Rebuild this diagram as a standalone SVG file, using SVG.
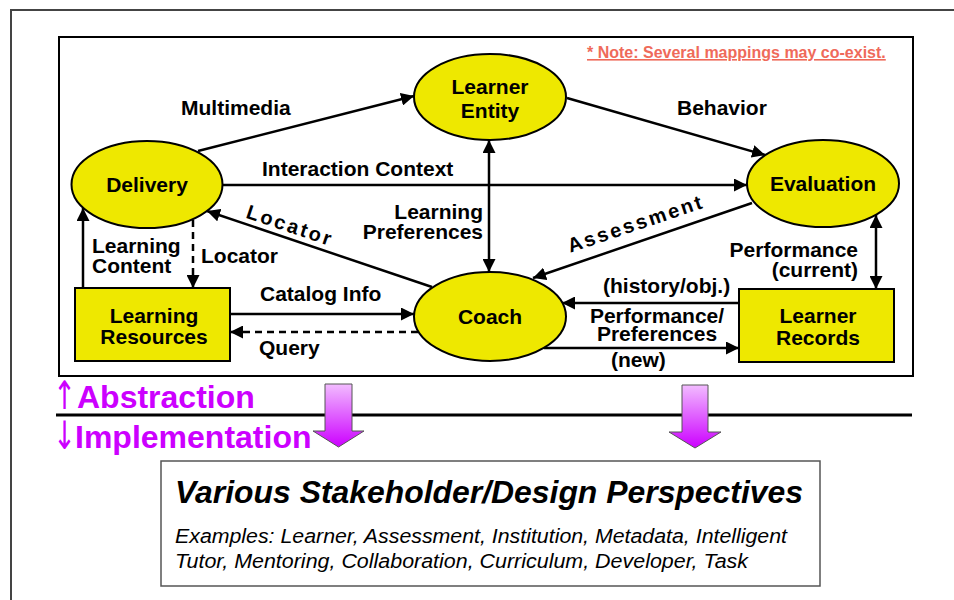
<svg xmlns="http://www.w3.org/2000/svg" width="954" height="600" viewBox="0 0 954 600">
<style>
.t{font-family:"Liberation Sans",Arial,sans-serif;font-weight:bold;font-size:21px;fill:#000}
.node{fill:#EEE800;stroke:#000;stroke-width:2}
.c{fill:none;stroke:#000;stroke-width:2.5}
.d{fill:none;stroke:#000;stroke-width:2.5;stroke-dasharray:7,5}
.mag{font-family:"Liberation Sans",Arial,sans-serif;font-weight:bold;font-size:32px;fill:#CC00FF}
.arw{font-family:"DejaVu Sans",sans-serif;font-weight:normal;font-size:29px;fill:#CC00FF}
.blk{stroke:#555;stroke-width:1;fill:url(#pg)}
</style>
<defs>
<marker id="ah" markerUnits="userSpaceOnUse" markerWidth="14" markerHeight="13" refX="13" refY="6.5" orient="auto-start-reverse">
<path d="M0,0 L13,6.5 L0,13 z" fill="#000"/>
</marker>
<linearGradient id="pg" x1="0" y1="0" x2="0" y2="1">
<stop offset="0" stop-color="#F2BCFF"/>
<stop offset="1" stop-color="#CC00FF"/>
</linearGradient>
</defs>
<rect width="954" height="600" fill="#fff"/>
<rect x="11" y="10" width="960" height="620" fill="none" stroke="#444" stroke-width="2"/>
<rect x="59" y="37" width="854" height="339" fill="#fff" stroke="#000" stroke-width="2"/>
<text x="587" y="58" style="font-family:'Liberation Sans',Arial,sans-serif;font-weight:bold;font-size:16px;fill:#EF6A5A;text-decoration:underline">* Note: Several mappings may co-exist.</text>

<g id="connectors">
<line class="c" x1="198" y1="151" x2="414" y2="96" marker-end="url(#ah)"/>
<line class="c" x1="222" y1="185" x2="747" y2="185" marker-end="url(#ah)"/>
<line class="c" x1="567" y1="98" x2="765" y2="155" marker-end="url(#ah)"/>
<line class="c" x1="489" y1="140" x2="489" y2="272" marker-start="url(#ah)" marker-end="url(#ah)"/>
<line class="c" x1="432" y1="287" x2="207" y2="211" marker-end="url(#ah)"/>
<line class="c" x1="752" y1="203" x2="533" y2="278" marker-end="url(#ah)"/>
<line class="c" x1="83" y1="288" x2="83" y2="208" marker-end="url(#ah)"/>
<line class="d" x1="193" y1="220" x2="193" y2="288" marker-end="url(#ah)"/>
<line class="c" x1="230" y1="314" x2="414" y2="314" marker-end="url(#ah)"/>
<line class="d" x1="418" y1="332" x2="230" y2="332" marker-end="url(#ah)"/>
<line class="c" x1="739" y1="303" x2="562" y2="303" marker-end="url(#ah)"/>
<line class="c" x1="544" y1="348" x2="739" y2="348" marker-end="url(#ah)"/>
<line class="c" x1="876" y1="215" x2="876" y2="289" marker-start="url(#ah)" marker-end="url(#ah)"/>
<text class="t" x="181" y="115">Multimedia</text>
<text class="t" x="677" y="115">Behavior</text>
<text class="t" x="262" y="176">Interaction Context</text>
<text class="t" x="483" y="219" text-anchor="end">Learning</text>
<text class="t" x="483" y="239" text-anchor="end">Preferences</text>
<text class="t" x="92" y="253">Learning</text>
<text class="t" x="92" y="273">Content</text>
<text class="t" x="201" y="263">Locator</text>
<text class="t" x="260" y="301">Catalog Info</text>
<text class="t" x="259" y="355">Query</text>
<text class="t" x="858" y="257" text-anchor="end">Performance</text>
<text class="t" x="858" y="277" text-anchor="end">(current)</text>
<text class="t" x="603" y="293">(history/obj.)</text>
<text class="t" x="657" y="323" text-anchor="middle">Performance/</text>
<text class="t" x="657" y="341" text-anchor="middle">Preferences</text>
<text class="t" x="611" y="367">(new)</text>
<text class="t" x="0" y="0" text-anchor="middle" style="font-size:20px;letter-spacing:2.5px" transform="translate(288,232) rotate(18.5)">Locator</text>
<text class="t" x="0" y="0" text-anchor="middle" style="font-size:20px;letter-spacing:2.5px" transform="translate(638,230) rotate(-18.6)">Assessment</text>
</g>

<g id="learner-entity">
<ellipse class="node" cx="490" cy="97" rx="76" ry="43"/>
<text class="t" x="490" y="94" text-anchor="middle">Learner</text>
<text class="t" x="490" y="118" text-anchor="middle">Entity</text>
</g>
<g id="delivery">
<ellipse class="node" cx="147" cy="184.5" rx="75.5" ry="43.5"/>
<text class="t" x="147" y="192" text-anchor="middle">Delivery</text>
</g>
<g id="evaluation">
<ellipse class="node" cx="823" cy="183.5" rx="76" ry="43.5"/>
<text class="t" x="823" y="191" text-anchor="middle">Evaluation</text>
</g>
<g id="coach">
<ellipse class="node" cx="490" cy="316.5" rx="76" ry="44.5"/>
<text class="t" x="490" y="324" text-anchor="middle">Coach</text>
</g>
<g id="learning-resources">
<rect class="node" x="75" y="288" width="155" height="73"/>
<text class="t" x="154" y="323" text-anchor="middle">Learning</text>
<text class="t" x="154" y="344" text-anchor="middle">Resources</text>
</g>
<g id="learner-records">
<rect class="node" x="739" y="289" width="155" height="73"/>
<text class="t" x="818" y="323" text-anchor="middle">Learner</text>
<text class="t" x="818" y="345" text-anchor="middle">Records</text>
</g>

<g id="levels">
<text class="arw" transform="translate(53,409) scale(0.95,1.35)">↑</text>
<text class="mag" x="77" y="408">Abstraction</text>
<line x1="56" y1="415" x2="912" y2="415" stroke="#000" stroke-width="3"/>
<text class="arw" transform="translate(53,449) scale(0.95,1.35)">↓</text>
<text class="mag" x="75" y="448">Implementation</text>
<polygon class="blk" points="325,384 352,384 352,431 364,431 338.5,447 313,431 325,431"/>
<polygon class="blk" points="682,385 708,385 708,432 721,432 695,448 669,432 682,432"/>
</g>

<g id="perspectives">
<rect x="161" y="461" width="659" height="125" fill="#fff" stroke="#555" stroke-width="1.5"/>
<text x="175" y="503" textLength="628" lengthAdjust="spacingAndGlyphs" style="font-family:'Liberation Sans',Arial,sans-serif;font-weight:bold;font-style:italic;font-size:31px;fill:#000">Various Stakeholder/Design Perspectives</text>
<text x="175" y="543" textLength="612" lengthAdjust="spacingAndGlyphs" style="font-family:'Liberation Sans',Arial,sans-serif;font-style:italic;font-size:19.5px;fill:#000">Examples: Learner, Assessment, Institution, Metadata, Intelligent</text>
<text x="175" y="568" textLength="573" lengthAdjust="spacingAndGlyphs" style="font-family:'Liberation Sans',Arial,sans-serif;font-style:italic;font-size:19.5px;fill:#000">Tutor, Mentoring, Collaboration, Curriculum, Developer, Task</text>
</g>
</svg>
